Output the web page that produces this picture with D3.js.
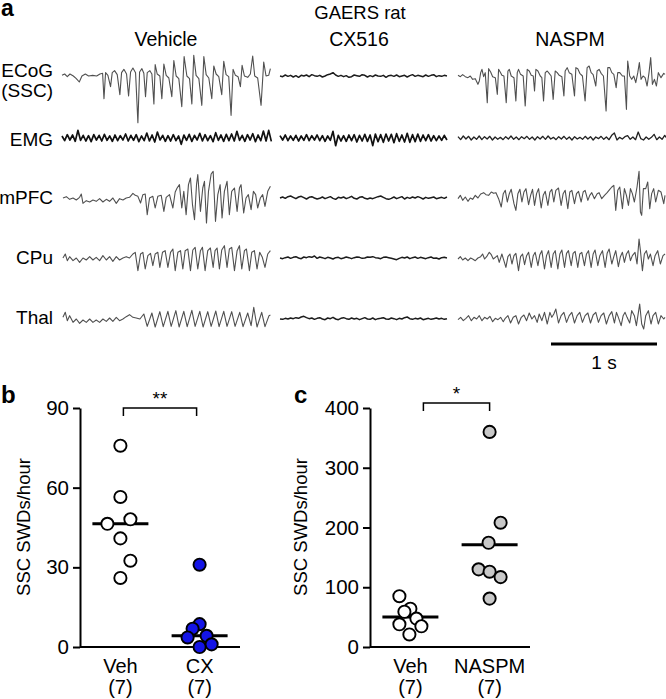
<!DOCTYPE html>
<html>
<head>
<meta charset="utf-8">
<script src="https://cdn.jsdelivr.net/npm/d3@7"></script>
<style>
body { margin: 0; background: #fff; }
svg { display: block; font-family: "Liberation Sans", Arial, sans-serif; }
</style>
</head>
<body>
<svg id="fig" width="666" height="699"></svg>
<script>
// ---- panel a: traces ----
const columns = ["Vehicle", "CX516", "NASPM"]
const channels = ["ECoG", "EMG", "mPFC", "CPu", "Thal"]

// seizure traces as [time ms, amplitude uV] vertices
const vehEcog = [[0,20],[25,60],[50,-20],[75,60],[107,0],[135,-80],[163,-180],[188,0],[220,60],[251,0],[289,20],[327,0],[358,60],[383,80],[396,-680],[411,100],[433,20],[458,-320],[474,100],[496,160],[521,40],[546,-560],[562,100],[584,200],[609,60],[628,-600],[647,120],[669,240],[694,100],[716,-1400],[732,120],[754,220],[772,80],[788,-620],[804,100],[829,160],[848,60],[867,-840],[879,340],[898,60],[923,0],[942,-680],[961,360],[983,20],[1008,-60],[1036,-620],[1055,460],[1077,0],[1102,-80],[1130,-920],[1152,580],[1178,0],[1203,-80],[1225,-840],[1243,620],[1265,20],[1291,-80],[1319,-880],[1338,580],[1360,40],[1385,-60],[1413,-680],[1432,300],[1454,60],[1479,-20],[1507,-560],[1526,440],[1548,40],[1573,-20],[1595,-1180],[1614,200],[1636,20],[1661,-20],[1683,-320],[1699,320],[1721,0],[1752,-40],[1777,60],[1799,600],[1818,0],[1846,-60],[1878,-880],[1903,420],[1925,0],[1950,20],[1966,220]]
const vehMpfc = [[9,0],[41,40],[72,-40],[104,0],[135,-60],[166,20],[182,120],[198,-160],[229,-80],[261,-120],[292,-60],[323,-100],[355,-20],[386,-120],[418,-40],[449,-100],[480,0],[512,-160],[543,-20],[575,-60],[606,0],[637,20],[669,140],[691,80],[716,50],[741,-150],[763,100],[785,120],[804,-500],[826,0],[857,50],[879,-300],[904,50],[936,80],[961,-400],[983,20],[1014,100],[1046,-300],[1068,180],[1086,300],[1108,400],[1130,-300],[1149,200],[1171,-500],[1193,400],[1212,600],[1231,-200],[1250,-650],[1269,400],[1281,700],[1306,-400],[1328,300],[1344,500],[1363,-750],[1382,200],[1407,720],[1426,800],[1448,-700],[1470,100],[1492,400],[1510,-600],[1532,200],[1557,500],[1579,-500],[1601,200],[1627,300],[1652,-400],[1674,300],[1689,400],[1714,-450],[1736,0],[1758,100],[1784,-350],[1806,200],[1827,100],[1846,-300],[1871,0],[1893,100],[1915,-250],[1941,200],[1966,350]]
const vehCpu = [[9,0],[31,120],[50,-80],[72,40],[104,-80],[135,0],[166,-130],[198,0],[229,-60],[261,40],[292,-60],[323,20],[355,-80],[386,70],[418,-60],[449,40],[480,-100],[512,40],[543,-60],[575,0],[606,40],[637,0],[669,120],[691,170],[716,-380],[741,120],[763,170],[785,-330],[810,70],[835,140],[857,-230],[879,120],[904,170],[923,-280],[948,170],[973,220],[999,-280],[1024,170],[1046,270],[1068,-380],[1093,170],[1118,220],[1140,-330],[1162,220],[1187,270],[1212,-380],[1234,240],[1256,320],[1281,-330],[1306,220],[1325,320],[1350,-380],[1375,220],[1400,300],[1426,-280],[1444,220],[1463,300],[1485,-330],[1507,240],[1532,370],[1557,-280],[1579,270],[1601,320],[1627,-380],[1652,220],[1674,370],[1696,-330],[1721,220],[1740,270],[1768,-380],[1790,170],[1815,220],[1840,-330],[1865,170],[1890,20],[1915,-280],[1941,120],[1966,220]]
const vehThal = [[9,50],[31,200],[50,-50],[72,100],[104,-100],[135,0],[166,-130],[198,-30],[229,-100],[261,0],[292,-100],[323,-30],[355,-100],[386,0],[418,-70],[449,30],[480,-70],[512,50],[543,-50],[575,0],[606,70],[637,130],[669,50],[700,30],[735,0],[772,150],[804,-220],[848,180],[879,-240],[923,220],[955,-230],[999,230],[1030,-220],[1074,250],[1105,-240],[1149,230],[1181,-230],[1225,260],[1256,-220],[1300,230],[1331,-240],[1375,220],[1407,-220],[1451,240],[1482,-230],[1526,230],[1557,-220],[1601,220],[1633,-220],[1677,200],[1708,-230],[1752,180],[1784,-200],[1809,350],[1840,-240],[1884,200],[1915,-230],[1953,100],[1966,120]]
const naspmEcog = [[0,20],[22,-20],[44,40],[69,-20],[94,-50],[116,0],[138,-100],[163,-80],[188,-250],[201,-150],[214,100],[226,200],[242,-20],[257,100],[276,-800],[289,220],[308,120],[327,-20],[352,-50],[371,-550],[383,200],[402,100],[414,20],[433,0],[455,-800],[471,150],[484,200],[502,0],[528,-50],[546,-750],[559,100],[571,200],[590,50],[615,0],[634,-900],[653,200],[672,150],[691,20],[710,0],[722,-450],[735,200],[754,150],[776,0],[791,-50],[807,-750],[823,100],[842,150],[860,80],[879,0],[898,-700],[917,150],[936,100],[955,20],[980,-20],[999,-600],[1011,150],[1030,250],[1049,100],[1074,50],[1099,-600],[1112,250],[1130,220],[1149,80],[1174,0],[1199,-750],[1218,250],[1237,300],[1256,100],[1275,40],[1300,-300],[1312,150],[1331,200],[1350,80],[1372,0],[1397,-1050],[1413,250],[1432,250],[1451,100],[1470,50],[1492,-350],[1507,100],[1526,100],[1551,0],[1570,0],[1589,-1000],[1601,450],[1620,0],[1639,-100],[1658,0],[1677,-200],[1696,100],[1711,400],[1727,-100],[1746,0],[1765,-50],[1784,-300],[1802,100],[1818,550],[1834,-250],[1853,-100],[1872,-300],[1890,100],[1915,-50],[1941,80],[1953,50]]
const naspmMpfc = [[0,-20],[22,80],[44,-70],[69,30],[94,-100],[116,0],[138,-40],[163,80],[188,0],[214,120],[242,160],[264,100],[289,80],[314,180],[336,140],[358,160],[383,-20],[408,-270],[427,130],[446,230],[465,-120],[484,130],[502,260],[528,-170],[546,-370],[565,130],[584,260],[603,-120],[622,180],[641,280],[666,-200],[685,80],[703,260],[722,-220],[741,130],[760,280],[785,-300],[804,80],[823,200],[848,-220],[867,180],[885,260],[904,-120],[923,230],[948,300],[973,-220],[992,130],[1011,230],[1036,-320],[1055,180],[1074,230],[1099,-170],[1118,130],[1137,200],[1162,-120],[1181,180],[1199,230],[1225,-70],[1243,80],[1262,160],[1287,-20],[1313,130],[1331,160],[1356,-20],[1382,80],[1407,160],[1432,260],[1451,330],[1470,380],[1488,-370],[1507,230],[1526,330],[1551,-320],[1570,280],[1589,80],[1608,-220],[1627,280],[1645,130],[1664,-120],[1689,330],[1708,800],[1721,-420],[1733,-520],[1749,280],[1771,280],[1790,480],[1809,-320],[1827,130],[1846,280],[1865,-120],[1890,230],[1915,180],[1941,-170],[1953,80]]
const naspmCpu = [[0,-30],[22,40],[44,-60],[69,0],[94,-80],[119,0],[138,-30],[163,-80],[188,0],[214,40],[232,120],[251,-30],[270,40],[295,170],[314,100],[333,-30],[352,20],[371,70],[389,-130],[414,120],[433,-80],[452,-280],[471,40],[490,120],[509,-180],[528,70],[546,140],[571,-380],[590,40],[609,120],[628,-200],[647,70],[666,170],[691,-280],[710,70],[728,170],[754,-230],[772,100],[791,220],[816,-330],[835,70],[854,220],[879,-280],[898,120],[917,220],[942,-330],[961,120],[980,240],[1005,-280],[1024,140],[1042,220],[1068,-230],[1086,140],[1105,200],[1130,-280],[1149,120],[1168,170],[1193,-230],[1212,120],[1231,220],[1256,-280],[1275,120],[1293,240],[1319,-230],[1338,70],[1363,220],[1388,-280],[1407,140],[1426,270],[1451,-180],[1470,40],[1488,220],[1513,-260],[1532,40],[1551,170],[1570,-130],[1589,120],[1608,220],[1627,-80],[1645,70],[1670,170],[1689,-180],[1708,570],[1721,220],[1740,-380],[1758,120],[1777,220],[1796,-30],[1815,120],[1840,-230],[1859,70],[1884,220],[1909,-180],[1934,70],[1953,120]]
const naspmThal = [[0,-20],[25,50],[50,-50],[75,20],[100,100],[126,-50],[151,50],[176,0],[201,100],[226,-50],[251,50],[276,0],[301,80],[327,-80],[352,20],[377,-20],[402,50],[427,-80],[446,20],[471,100],[496,-120],[521,50],[546,100],[571,-150],[597,50],[622,120],[647,-50],[672,180],[697,0],[722,100],[747,-100],[766,150],[791,-50],[816,200],[842,-150],[867,200],[885,50],[904,150],[923,300],[948,-120],[973,100],[999,200],[1024,-100],[1049,100],[1074,200],[1099,-120],[1124,100],[1149,200],[1174,-100],[1199,100],[1225,180],[1250,-120],[1275,120],[1300,200],[1325,-100],[1350,100],[1375,180],[1400,-150],[1426,100],[1451,220],[1476,-120],[1495,200],[1513,50],[1539,-200],[1558,100],[1576,200],[1595,50],[1620,-120],[1639,250],[1664,100],[1683,-200],[1702,200],[1714,450],[1733,-150],[1752,-300],[1771,100],[1796,250],[1821,-150],[1840,100],[1865,200],[1890,-150],[1915,100],[1941,0],[1953,50]]

// noisy traces sampled every 25 ms (uV)
const sampleMs = 25
const vehEmg = [60,-80,100,-60,90,-100,230,-70,80,-90,70,-110,100,-60,80,-90,110,-70,60,-100,90,-80,70,-60,120,-90,80,-70,100,-110,60,-80,150,-90,90,-120,180,-60,80,-100,70,-90,100,-80,60,-190,90,-70,110,-100,80,-60,140,-90,100,-80,70,-110,160,-70,90,-100,110,-80,120,-90,200,-70,80,-100,100,-60,130,-110,90,-80,210,-90,230,-100]
const naspmEmg = [40,-50,60,-30,50,-60,30,-40,60,-50,40,-30,50,-60,30,-40,20,-50,40,-30,60,-40,30,-50,40,-20,50,-40,30,-60,40,-30,50,-40,60,-30,20,-50,40,-30,50,-40,30,-60,40,-30,20,-40,50,-30,40,-60,30,-20,50,-40,30,-50,80,150,-60,20,-30,40,70,-40,30,-50,180,-20,-60,30,-40,20,110,-50,30,-40,80,-30]
const cxEcog = [0,-20,30,-10,20,-30,10,-40,20,0,30,-20,40,10,-10,20,-30,0,40,60,100,30,-10,20,-20,10,-40,-20,30,10,-10,40,20,-30,10,-20,30,0,-10,20,-40,10,20,-10,30,-20,0,20,-30,10,40,-10,20,0,-20,30,-10,20,40,-20,10,-10,20,0]
const cxEmg = [70,-60,90,-80,60,-70,80,-90,60,-70,100,-80,70,-60,90,-80,70,-100,60,-70,200,-230,80,-90,70,-100,90,-80,100,-120,80,-90,110,-100,90,-230,120,-110,100,-130,120,-90,110,-140,130,-100,90,-120,140,-130,100,-110,120,-100,90,-80,100,-90,70,-80,60,-70,80,-60]
const cxMpfc = [0,30,-10,40,60,20,-20,30,50,10,-30,20,40,0,-30,-10,30,-20,10,40,-10,-40,20,0,30,-20,10,50,-10,-30,20,40,-10,-30,0,-20,10,40,60,20,-20,-40,-10,30,-20,10,40,-30,20,-10,30,0,40,10,-30,20,-10,10,30,-20,0,20,-10,30]
const cxCpu = [0,-20,10,30,-10,20,40,0,-20,30,10,40,20,60,-10,30,10,-20,20,0,-30,10,20,-20,0,30,10,-20,10,30,20,-10,0,30,20,40,10,0,-20,20,30,10,-10,-30,-50,-10,20,0,30,-20,10,30,-10,20,0,-20,10,30,-10,0,-30,10,20,0]
const cxThal = [0,-10,20,0,30,10,40,20,60,80,40,10,30,-10,20,40,0,-20,30,10,50,0,-20,20,40,10,-10,30,0,20,-20,10,40,0,-10,30,-20,10,20,40,0,-10,30,10,-20,20,0,40,60,10,-10,20,0,30,-20,0,20,-10,10,30,0,20,-10,10]

// ---- panels b and c ----
const bGroups = ["Veh", "CX"]
const bVeh = [75.8, 56.5, 48.1, 46.4, 40.9, 32.5, 26]
const bCx = [31, 8.6, 6.9, 4.2, 3.6, 1.0, 0]
const bLines = [46.4, 4.2]
const bTicks = [0, 30, 60, 90]

const cGroups = ["Veh", "NASPM"]
const cVeh = [85, 64, 59, 47.6, 38, 34.7, 21]
const cNaspm = [360, 208, 174.5, 130, 126, 117, 81]
const cLines = [50.3, 171]
const cTicks = [0, 100, 200, 300, 400]
const groupN = ["(7)", "(7)"]

const svg = d3.select("#fig")

function sampled(arr) { return arr.map((v, i) => [i * sampleMs, v]) }

function drawTraces(svg) {
    const ms = d3.scaleLinear().domain([0, 1000]).range([0, 106])
    const uv = d3.scaleLinear().domain([0, 30]).range([0, -1])
    const colX = d3.scaleOrdinal().domain(columns).range([62, 280, 458])
    const rowY = d3.scaleOrdinal().domain(channels).range([76, 138, 198, 258, 319])

    const traces = [
        {col: "Vehicle", ch: "ECoG", pts: vehEcog, kind: "sz"},
        {col: "Vehicle", ch: "EMG", pts: sampled(vehEmg), kind: "emg"},
        {col: "Vehicle", ch: "mPFC", pts: vehMpfc, kind: "sz"},
        {col: "Vehicle", ch: "CPu", pts: vehCpu, kind: "sz"},
        {col: "Vehicle", ch: "Thal", pts: vehThal, kind: "sz"},
        {col: "CX516", ch: "ECoG", pts: sampled(cxEcog), kind: "quiet"},
        {col: "CX516", ch: "EMG", pts: sampled(cxEmg), kind: "emg"},
        {col: "CX516", ch: "mPFC", pts: sampled(cxMpfc), kind: "quiet"},
        {col: "CX516", ch: "CPu", pts: sampled(cxCpu), kind: "quiet"},
        {col: "CX516", ch: "Thal", pts: sampled(cxThal), kind: "quiet"},
        {col: "NASPM", ch: "ECoG", pts: naspmEcog, kind: "sz"},
        {col: "NASPM", ch: "EMG", pts: sampled(naspmEmg), kind: "emgThin"},
        {col: "NASPM", ch: "mPFC", pts: naspmMpfc, kind: "sz"},
        {col: "NASPM", ch: "CPu", pts: naspmCpu, kind: "sz"},
        {col: "NASPM", ch: "Thal", pts: naspmThal, kind: "sz"}
    ]
    const style = {
        sz: {stroke: "#505050", w: 1.1},
        quiet: {stroke: "#1c1c1c", w: 1.5},
        emg: {stroke: "#111", w: 1.7},
        emgThin: {stroke: "#222", w: 1.3}
    }

    const line = d3.line().x(d => ms(d[0])).y(d => uv(d[1]))

    svg.append("g").selectAll("path")
        .data(traces)
        .join("path")
        .attr("transform", d => "translate("+colX(d.col)+","+rowY(d.ch)+")")
        .attr("d", d => line(d.pts))
        .attr("fill", "none")
        .attr("stroke", d => style[d.kind].stroke)
        .attr("stroke-width", d => style[d.kind].w)
        .attr("stroke-linejoin", "round")

    // labels
    svg.append("text").attr("x", 1).attr("y", 16)
        .attr("font-size", 23).attr("font-weight", "bold").text("a")
    svg.append("text").attr("x", 360).attr("y", 19)
        .attr("font-size", 18.5).attr("text-anchor", "middle").text("GAERS rat")
    svg.append("g").selectAll("text")
        .data(columns)
        .join("text")
        .attr("x", (d, i) => [166, 359, 570][i])
        .attr("y", 46)
        .attr("font-size", 19.5)
        .attr("text-anchor", "middle")
        .text(d => d)

    const rowLabels = [["ECoG", 77], ["(SSC)", 97], ["EMG", 146], ["mPFC", 204], ["CPu", 264], ["Thal", 324]]
    svg.append("g").selectAll("text")
        .data(rowLabels)
        .join("text")
        .attr("x", 53)
        .attr("y", d => d[1])
        .attr("font-size", 19)
        .attr("text-anchor", "end")
        .text(d => d[0])

    // scale bar
    svg.append("line")
        .attr("x1", 551).attr("x2", 551 + ms(1000))
        .attr("y1", 344).attr("y2", 344)
        .attr("stroke", "#000").attr("stroke-width", 3)
    svg.append("text").attr("x", 551 + ms(500)).attr("y", 369)
        .attr("font-size", 19).attr("text-anchor", "middle").text("1 s")
}

function drawScatter(svg, o) {
    const g = svg.append("g")
    const x = d3.scalePoint().domain(o.groups).range([o.left, o.right]).padding(0.51)
    const y = d3.scaleLinear().domain([0, o.max]).range([647, 408])

    const yAxis = g.append("g")
        .attr("transform", "translate("+o.left+",0)")
        .call(d3.axisLeft(y).tickValues(o.ticks).tickSize(7).tickSizeOuter(0).tickPadding(4))
    yAxis.selectAll("path, line").attr("stroke", "#000").attr("stroke-width", 2)
    yAxis.selectAll("text").attr("font-size", 20.5).attr("font-family", "Liberation Sans, Arial, sans-serif").attr("fill", "#000")

    g.append("line")
        .attr("x1", o.left).attr("x2", o.right)
        .attr("y1", y(0)).attr("y2", y(0))
        .attr("stroke", "#000").attr("stroke-width", 2)

    g.append("text")
        .attr("transform", "translate("+o.labelX+",527) rotate(-90)")
        .attr("font-size", 18.5).attr("text-anchor", "middle")
        .attr("dy", "0.35em")
        .text("SSC SWDs/hour")

    g.append("text").attr("x", o.letterX).attr("y", 403)
        .attr("font-size", 24).attr("font-weight", "bold").text(o.letter)

    // summary lines
    g.append("g").selectAll("line")
        .data(o.lines)
        .join("line")
        .attr("x1", (d, i) => x(o.groups[i]) - 28)
        .attr("x2", (d, i) => x(o.groups[i]) + 28)
        .attr("y1", d => y(d)).attr("y2", d => y(d))
        .attr("stroke", "#000").attr("stroke-width", 3)

    // points
    o.series.forEach((vals, gi) => {
        g.append("g").selectAll("circle")
            .data(vals)
            .join("circle")
            .attr("cx", (d, i) => x(o.groups[gi]) + o.dodge[gi][i])
            .attr("cy", d => y(d))
            .attr("r", 6.1)
            .attr("fill", o.fills[gi])
            .attr("stroke", "#000")
            .attr("stroke-width", 1.9)
    })

    // group labels
    const lab = g.append("g").selectAll("g")
        .data(o.groups)
        .join("g")
    lab.append("text").attr("x", d => x(d)).attr("y", 673)
        .attr("font-size", 20).attr("text-anchor", "middle").text(d => d)
    lab.append("text").attr("x", d => x(d)).attr("y", 694)
        .attr("font-size", 20).attr("text-anchor", "middle").text((d, i) => groupN[i])

    // significance bracket
    const bx1 = x(o.groups[0]) + o.bracket[0]
    const bx2 = x(o.groups[1]) + o.bracket[1]
    g.append("path")
        .attr("d", "M"+bx1+","+(o.bracketTop + 8)+"V"+o.bracketTop+"H"+bx2+"V"+(o.bracketTop + 8))
        .attr("fill", "none").attr("stroke", "#000").attr("stroke-width", 1.5)
    g.append("text").attr("x", (bx1 + bx2) / 2).attr("y", o.bracketTop - 3)
        .attr("font-size", 19).attr("text-anchor", "middle").text(o.stars)
}

drawTraces(svg)

drawScatter(svg, {
    groups: bGroups, series: [bVeh, bCx], lines: bLines, ticks: bTicks, max: 90,
    left: 80, right: 240, labelX: 24, letter: "b", letterX: 1,
    fills: ["#fff", "#1414e6"],
    dodge: [[0, 0, 10, -13, 0, 10, 0], [0, 0, -7, 7, -12, 12, 0]],
    bracket: [3, -3], bracketTop: 408, stars: "**"
})

drawScatter(svg, {
    groups: cGroups, series: [cVeh, cNaspm], lines: cLines, ticks: cTicks, max: 400,
    left: 370, right: 530, labelX: 301, letter: "c", letterX: 294,
    fills: ["#fff", "#c8c8c8"],
    dodge: [[-11, 0, -6, 6, -11, 11, -1], [0, 11, -1, -11, 0, 11, 0]],
    bracket: [13, 0], bracketTop: 403, stars: "*"
})
</script>
</body>
</html>
